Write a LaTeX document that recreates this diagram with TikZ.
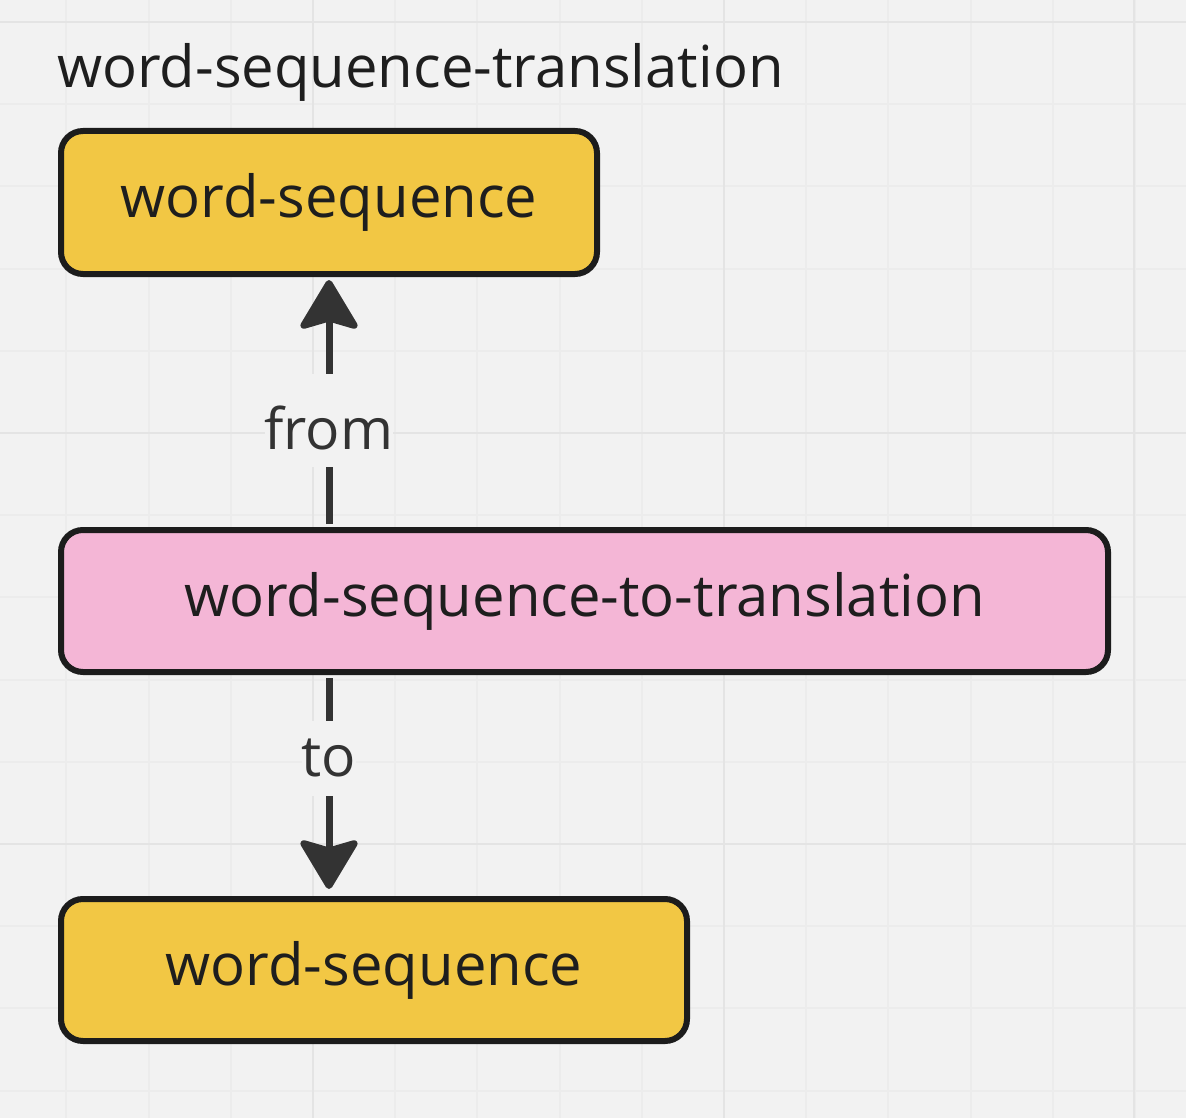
\documentclass[tikz,border=0pt]{standalone}
\usepackage{fontspec}
\setmainfont{Open Sans}
\usetikzlibrary{arrows.meta}
\definecolor{bg}{HTML}{F2F2F2}
\definecolor{gridminor}{HTML}{ECECEC}
\definecolor{gridmajor}{HTML}{E4E4E4}
\definecolor{yel}{HTML}{F2C744}
\definecolor{pnk}{HTML}{F4B6D6}
\definecolor{bord}{HTML}{1C1C1C}
\definecolor{txt}{HTML}{1E1E1E}
\definecolor{arr}{HTML}{333333}
\tikzset{
  box/.style={draw=bord, line width=6pt, rounded corners=22pt, inner sep=0pt,
    text=txt, font=\fontsize{58}{69}\selectfont},
  conn/.style={draw=arr, line width=7pt,
    -{Stealth[length=54pt, width=64pt, inset=9pt, round]}},
  lbl/.style={fill=bg, inner xsep=0pt, inner ysep=0pt, text=arr,
    font=\fontsize{57}{68}\selectfont},
}
\begin{document}
\begin{tikzpicture}[x=1pt, y=-1pt]
\fill[bg] (0,0) rectangle (1186,1118);
\useasboundingbox (0,0) rectangle (1186,1118);
% grid
\foreach \k in {-3,...,10} {
  \draw[gridminor, line width=2pt] ({313+82.2*\k},0) -- ({313+82.2*\k},1118);
}
\foreach \k in {0,...,13} {
  \draw[gridminor, line width=2pt] (0,{22+82.2*\k}) -- (1186,{22+82.2*\k});
}
\foreach \x in {313,724,1134} \draw[gridmajor, line width=2.5pt] (\x,0) -- (\x,1118);
\foreach \y in {22,433,844} \draw[gridmajor, line width=2.5pt] (0,\y) -- (1186,\y);

\node[anchor=base west, inner sep=0pt, text=txt, font=\fontsize{58}{69}\selectfont] (title) at (57,88) {word-sequence-translation};

\node[box, fill=yel, minimum width=536pt, minimum height=143pt] (ws1) at (329,202.5) {word-sequence};
\node[box, fill=pnk, minimum width=1047pt, minimum height=142pt] (wst) at (584.5,601) {word-sequence-to-translation};
\node[box, fill=yel, minimum width=626pt, minimum height=142pt] (ws2) at (374,970) {word-sequence};

\draw[conn, shorten <=3pt, shorten >=3pt] (wst.north -| ws1.south) -- (ws1.south)
  node[lbl, pos=0.4258, minimum height=93pt] (lfrom) {\raisebox{-7pt}[\height][0pt]{from}};
\draw[conn, shorten <=3pt, shorten >=7pt] (wst.south -| ws1.south) -- (ws2.north -| ws1.south)
  node[lbl, pos=0.3767, minimum height=75pt] (lto) {to};
\end{tikzpicture}
\end{document}
